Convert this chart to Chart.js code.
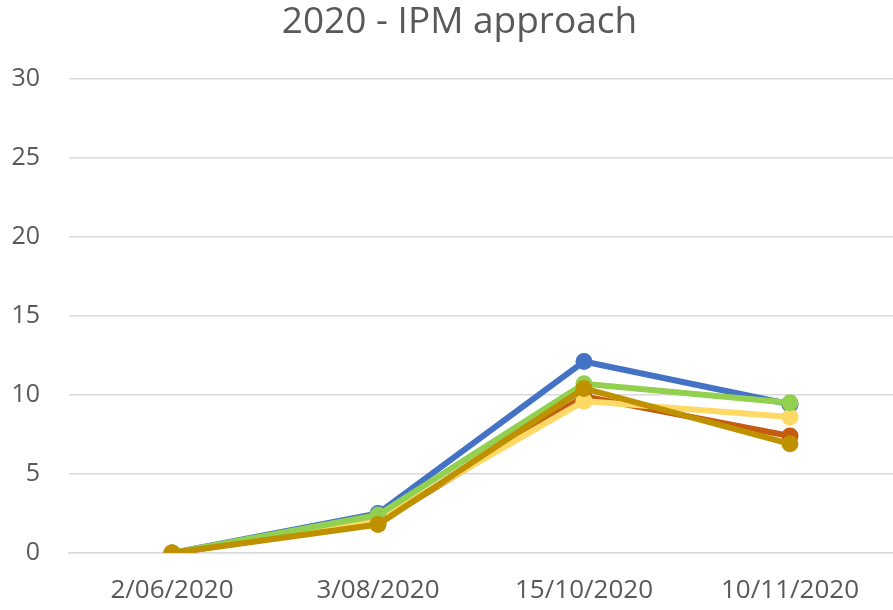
<!DOCTYPE html>
<html>
<head>
<meta charset="utf-8">
<script src="https://cdn.jsdelivr.net/npm/chart.js@4.4.0/dist/chart.umd.min.js"></script>
<style>
  html, body { margin: 0; padding: 0; background: #fff; overflow: hidden; }
  #wrap { width: 893px; height: 610px; position: relative; }
  #chart { display: block; }
</style>
</head>
<body>
<div id="wrap"><canvas id="chart"></canvas></div>
<script>
// ── Data ────────────────────────────────────────────────────────────────
var dates   = [ '2/06/2020', '3/08/2020', '15/10/2020', '10/11/2020' ];
var series1 = [ 0, 2.5, 12.1, 9.4 ];   // blue
var series2 = [ 0, 1.9, 9.9, 7.4 ];    // orange
var series3 = [ 0, 2.1, 9.6, 8.6 ];    // light yellow
var series4 = [ 0, 2.4, 10.7, 9.5 ];   // green
var series5 = [ 0, 1.8, 10.4, 6.9 ];   // dark gold
var yTicks  = [ 0, 5, 10, 15, 20, 25, 30 ];

var FONT = "'Open Sans', 'Liberation Sans', sans-serif";
var TEXT = '#595959';

function line( label, data, color, order ) {
	return {
		label           : label,
		data            : data,
		borderColor     : color,
		backgroundColor : color,
		borderWidth     : 6,
		pointRadius     : 8.5,
		pointBorderWidth: 0,
		pointHoverRadius: 8.5,
		tension         : 0,
		order           : order,
	};
}

// Title in the original sits a little right of the canvas centre.
var nudgeTitle = {
	id : 'nudgeTitle',
	afterLayout : function ( chart ) {
		if ( chart.titleBlock ) { chart.titleBlock.left += 26; }
	},
};

new Chart( document.getElementById( 'chart' ), {
	type : 'line',
	data : {
		labels   : dates,
		datasets : [
			line( 'Series 1', series1, '#4472C4', 5 ),
			line( 'Series 2', series2, '#C55A11', 4 ),
			line( 'Series 3', series3, '#FFD966', 3 ),
			line( 'Series 4', series4, '#92D050', 2 ),
			line( 'Series 5', series5, '#BF9000', 1 ),
		],
	},
	plugins : [ nudgeTitle ],
	options : {
		responsive         : true,
		maintainAspectRatio: false,
		animation          : false,
		layout             : { autoPadding: false, padding: { left: 0, right: 0, top: 0, bottom: 4 } },
		plugins            : {
			legend  : { display: false },
			tooltip : { enabled: false },
			title   : {
				display : true,
				text    : '2020 - IPM approach',
				color   : TEXT,
				font    : { family: FONT, size: 37, weight: 'normal' },
				padding : { top: 0, bottom: 34 },
			},
		},
		scales : {
			x : {
				offset : true,
				afterFit : function ( axis ) {
					axis.height       = 53;
					axis.paddingLeft  = 0;
					axis.paddingRight = 0;
				},
				grid   : { display: false, drawTicks: false },
				border : { color: '#d9d9d9', width: 1.5 },
				ticks  : { color: TEXT, font: { family: FONT, size: 26 }, padding: 22, maxRotation: 0 },
			},
			y : {
				min    : 0,
				max    : 30,
				afterBuildTicks : function ( axis ) {
					axis.ticks = yTicks.map( function ( v ) { return { value: v }; } );
				},
				afterFit : function ( axis ) { axis.width = 69; },
				grid   : { color: '#d9d9d9', lineWidth: 1.5, drawTicks: false },
				border : { display: false },
				ticks  : { color: TEXT, font: { family: FONT, size: 25 }, padding: 29 },
			},
		},
	},
} );
</script>
</body>
</html>
